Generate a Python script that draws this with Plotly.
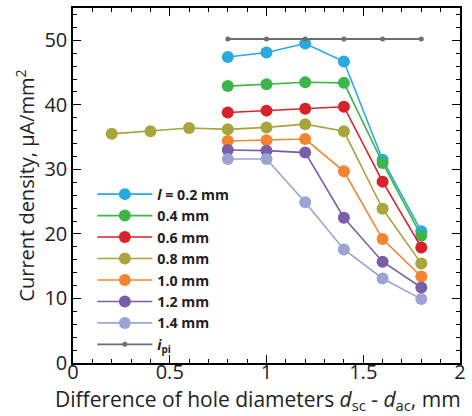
import plotly.graph_objects as go

x_main = [0.8, 1.0, 1.2, 1.4, 1.6, 1.8]
x_08 = [0.2, 0.4, 0.6, 0.8, 1.0, 1.2, 1.4, 1.6, 1.8]

y_02 = [47.4, 48.1, 49.5, 46.7, 31.5, 20.4]
y_04 = [42.9, 43.2, 43.5, 43.4, 31.0, 19.7]
y_06 = [38.8, 39.1, 39.4, 39.7, 28.1, 17.9]
y_08 = [35.5, 35.9, 36.4, 36.2, 36.5, 37.0, 35.9, 23.9, 15.4]
y_10 = [34.4, 34.5, 34.7, 29.7, 19.2, 13.4]
y_12 = [33.0, 32.9, 32.6, 22.5, 15.7, 11.7]
y_14 = [31.6, 31.6, 24.9, 17.6, 13.1, 9.9]
y_pi = [50.2, 50.2, 50.2, 50.2, 50.2, 50.2]

names = ["<i>l</i> = 0.2 mm", "0.4 mm", "0.6 mm", "0.8 mm", "1.0 mm", "1.2 mm", "1.4 mm"]
colors = ["#29A9E0", "#3DB54A", "#D7222A", "#A8A53A", "#F58432", "#7A5FA8", "#9DA3D3"]
series = [(x_main, y_02), (x_main, y_04), (x_main, y_06), (x_08, y_08),
          (x_main, y_10), (x_main, y_12), (x_main, y_14)]

x_ticks = [0, 0.5, 1, 1.5, 2]
x_ticktext = ["0", "0.5", "1", "1.5", "2"]
y_ticks = [0, 10, 20, 30, 40, 50]

fig = go.Figure()
for (xs, ys), n, c in zip(series, names, colors):
    fig.add_trace(go.Scatter(x=xs, y=ys, name=n, mode="lines+markers",
                             line=dict(color=c, width=1.6),
                             marker=dict(color=c, size=12)))
fig.add_trace(go.Scatter(x=x_main, y=y_pi, name="<i>i</i><sub>pi</sub>", mode="lines+markers",
                         line=dict(color="#6d6d6d", width=1.8),
                         marker=dict(color="#6d6d6d", size=5)))

axis_common = dict(showline=True, linecolor="black", linewidth=1.5, mirror="allticks",
                   ticks="inside", ticklen=8, tickwidth=1.3, tickcolor="black",
                   showgrid=False, zeroline=False,
                   tickfont=dict(size=20, color="#222", family="Open Sans"))

fig.update_xaxes(range=[0, 2], tickvals=x_ticks, ticktext=x_ticktext,
                 ticklabelstandoff=-10,
                 minor=dict(dtick=0.1, ticks="inside", ticklen=4, tickcolor="black", tickwidth=1),
                 **axis_common)
fig.update_yaxes(range=[0, 55], tickvals=y_ticks,
                 minor=dict(dtick=2, ticks="inside", ticklen=4, tickcolor="black", tickwidth=1),
                 title=dict(text="Current density, μA/mm<sup>2</sup>",
                            font=dict(size=20, color="#222", family="Open Sans"), standoff=4),
                 **axis_common)

fig.add_annotation(text="Difference of hole diameters <i>d</i><sub>sc</sub> - <i>d</i><sub>ac</sub>, mm",
                   xref="paper", yref="paper", x=0.478, y=0, xanchor="center", yanchor="top",
                   yshift=-20, showarrow=False,
                   font=dict(size=21, color="#222", family="Open Sans"))

fig.update_layout(width=472, height=416, margin=dict(l=73, r=6, t=6, b=53),
                  plot_bgcolor="white", paper_bgcolor="white",
                  font=dict(family="Open Sans", color="#222"),
                  legend=dict(x=0.05, y=0.52, xanchor="left", yanchor="top",
                              itemwidth=55,
                              bgcolor="rgba(0,0,0,0)", tracegroupgap=0,
                              font=dict(size=14.2, color="#222", family="Open Sans", weight="bold")))

fig.write_html("out.html")
